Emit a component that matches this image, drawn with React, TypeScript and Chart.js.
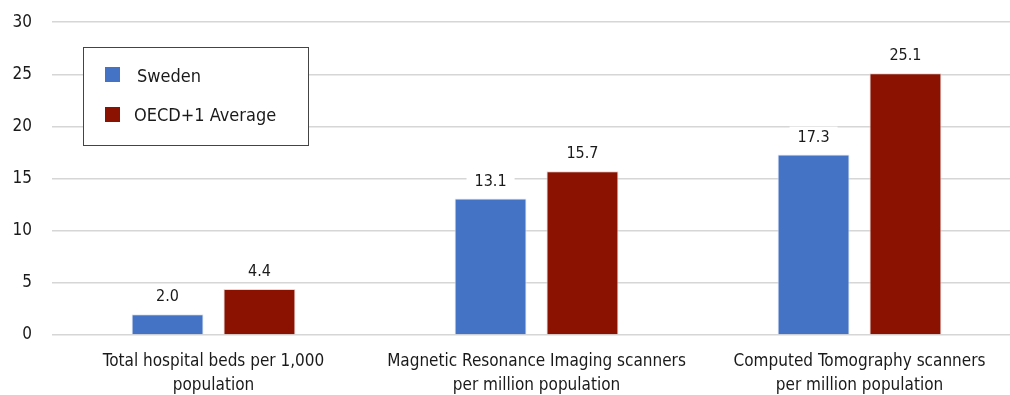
import React, { useEffect, useRef } from "react";
import { Chart, registerables } from "chart.js";

Chart.register(...registerables);

const categories: string[][] = [
  ["Total hospital beds per 1,000", "population"],
  ["Magnetic Resonance Imaging scanners", "per million population"],
  ["Computed Tomography scanners", "per million population"],
];
const seriesNames = ["Sweden", "OECD+1 Average"];
const swedenValues = [2.0, 13.1, 17.3];
const oecdValues = [4.4, 15.7, 25.1];
const yTicks = [0, 5, 10, 15, 20, 25, 30];

const FONT = "'Liberation Sans Narrow', 'DejaVu Sans Condensed', 'Roboto', sans-serif";
const TEXT = "#1a1a1a";
const BLUE = "#4472C4";
const RED = "#8B1200";
const SHIFT = 8;

const valueLabels = {
  id: "valueLabels",
  afterDatasetsDraw(chart: any) {
    const ctx = chart.ctx;
    ctx.save();
    ctx.font = `16px ${FONT}`;
    ctx.textAlign = "center";
    ctx.textBaseline = "middle";
    chart.data.datasets.forEach((ds: any, i: number) => {
      const meta = chart.getDatasetMeta(i);
      meta.data.forEach((bar: any, j: number) => {
        const txt = Number(ds.data[j]).toFixed(1);
        const w = ctx.measureText(txt).width;
        const cy = bar.y - 18;
        ctx.fillStyle = "#ffffff";
        ctx.fillRect(bar.x - w / 2 - 8, cy - 10, w + 16, 20);
        ctx.fillStyle = TEXT;
        ctx.fillText(txt, bar.x, cy + 1);
      });
    });
    ctx.restore();
  },
};

const boxLegend = {
  id: "boxLegend",
  afterDraw(chart: any) {
    const ctx = chart.ctx;
    ctx.save();
    ctx.translate(0, SHIFT);
    const x0 = 83, y0 = 47, w = 225, h = 98;
    ctx.fillStyle = "#ffffff";
    ctx.fillRect(x0, y0, w, h);
    ctx.strokeStyle = "#444444";
    ctx.lineWidth = 1;
    ctx.strokeRect(x0 + 0.5, y0 + 0.5, w, h);
    ctx.font = `18px ${FONT}`;
    ctx.textBaseline = "middle";
    ctx.textAlign = "left";
    const rows = [
      { sy: 67, ty: 77, tx: 137 },
      { sy: 107, ty: 116, tx: 134 },
    ];
    chart.data.datasets.forEach((ds: any, i: number) => {
      const r = rows[i];
      ctx.fillStyle = ds.backgroundColor;
      ctx.fillRect(105, r.sy, 15, 15);
      ctx.fillStyle = TEXT;
      ctx.fillText(ds.label, r.tx, r.ty);
    });
    ctx.restore();
  },
};

export default function App() {
  const ref = useRef<HTMLCanvasElement>(null);
  useEffect(() => {
    if (!ref.current) return;
    const chart = new Chart(ref.current, {
      type: "bar",
      data: {
        labels: categories,
        datasets: [
          {
            label: seriesNames[0],
            data: swedenValues,
            backgroundColor: BLUE,
            borderColor: "#dfe6f3",
            borderWidth: 1,
            categoryPercentage: 0.569,
            barPercentage: 0.783,
          },
          {
            label: seriesNames[1],
            data: oecdValues,
            backgroundColor: RED,
            borderColor: "#e8d8d5",
            borderWidth: 1,
            categoryPercentage: 0.569,
            barPercentage: 0.783,
          },
        ],
      },
      options: {
        responsive: false,
        animation: false,
        devicePixelRatio: 1,
        layout: { padding: { top: 13, right: 0, left: 0, bottom: 0 } },
        plugins: {
          legend: { display: false },
          tooltip: { enabled: false },
        },
        scales: {
          x: {
            grid: { display: false, drawTicks: false },
            border: { display: false },
            ticks: {
              color: TEXT,
              padding: 14,
              maxRotation: 0,
              autoSkip: false,
              font: { family: FONT, size: 17, lineHeight: 1.45 },
            },
            afterFit(scale: any) {
              scale.height = 75;
            },
          },
          y: {
            min: 0,
            max: 30,
            afterBuildTicks(scale: any) {
              scale.ticks = yTicks.map((v) => ({ value: v }));
            },
            grid: { color: "#d6d6d6", lineWidth: 1.5, drawTicks: false },
            border: { display: false },
            ticks: {
              color: TEXT,
              padding: 20,
              font: { family: FONT, size: 17 },
            },
            afterFit(scale: any) {
              scale.width = 52;
            },
          },
        },
      },
      plugins: [valueLabels, boxLegend],
    });
    return () => chart.destroy();
  }, []);
  return (
    <div style={{ position: "fixed", left: 0, top: 0, width: 1010, height: 395, overflow: "hidden", background: "#fff" }}>
      <canvas ref={ref} width={1021} height={418} style={{ display: "block", marginTop: -SHIFT }} />
    </div>
  );
}
